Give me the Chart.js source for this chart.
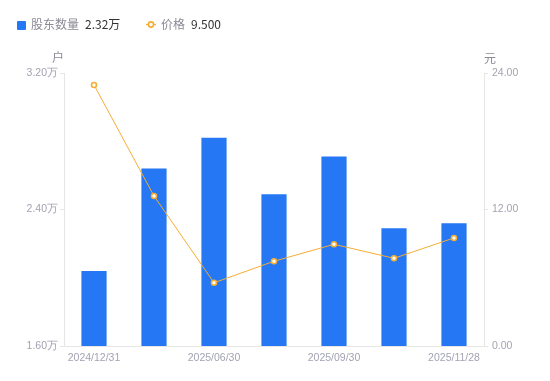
<!DOCTYPE html>
<html>
<head>
<meta charset="utf-8">
<script src="https://cdn.jsdelivr.net/npm/chart.js@4.4.1/dist/chart.umd.min.js"></script>
<style>
  body { margin: 0; background: #fff; font-family: "Noto Sans CJK SC", "Noto Sans", sans-serif; }
  #wrap { position: relative; width: 550px; height: 381px; }
  .legend { position: absolute; top: 15px; font-size: 12px; line-height: 18px; white-space: nowrap; }
  .legend .name { color: #8a8a96; }
  .legend .val { color: #333; margin-left: 6px; }
  .sq { position: absolute; left: 17px; top: 21px; width: 9px; height: 9px; background: #2577f4; border-radius: 1px; }
  .mk { position: absolute; left: 146px; top: 20px; width: 10px; height: 9px; }
</style>
</head>
<body>
<div id="wrap">
  <div class="sq"></div>
  <div class="legend" style="left:31px"><span class="name">股东数量</span><span class="val">2.32万</span></div>
  <svg class="mk" viewBox="0 0 10 9"><line x1="0" y1="4.5" x2="10" y2="4.5" stroke="#f6ad35" stroke-width="1.2"/><circle cx="5" cy="4.5" r="2.6" fill="#fff" stroke="#f6ad35" stroke-width="1.6"/></svg>
  <div class="legend" style="left:161px"><span class="name">价格</span><span class="val">9.500</span></div>
  <canvas id="chart" width="550" height="381"></canvas>
</div>
<script>
const dates = ['2024/12/31', '2025/03/31', '2025/06/30', '2025/08/29', '2025/09/30', '2025/10/31', '2025/11/28'];
const holders = [2.04, 2.64, 2.82, 2.49, 2.71, 2.29, 2.32]; // 万户
const prices = [22.95, 13.19, 5.56, 7.45, 8.94, 7.71, 9.50];
const leftTicks = [1.6, 2.4, 3.2];
const rightTicks = [0, 12, 24];

const tickColor = '#a3a3b3';
const lineColor = '#e6e6e6';
const tickFont = { size: 10.5, family: '"Liberation Sans", Arial, sans-serif' };

// unit labels above the two y axes
const unitLabels = {
  id: 'unitLabels',
  afterDraw(chart) {
    const ctx = chart.ctx;
    const area = chart.chartArea;
    ctx.save();
    ctx.font = '12px "Noto Sans CJK SC", sans-serif';
    ctx.fillStyle = '#8a8a96';
    ctx.textBaseline = 'middle';
    ctx.textAlign = 'center';
    ctx.fillText('户', area.left - 6, area.top - 16);
    ctx.fillText('元', area.right + 6, area.top - 15);
    ctx.restore();
  }
};

new Chart(document.getElementById('chart'), {
  data: {
    labels: dates,
    datasets: [
      {
        type: 'line',
        label: '价格',
        data: prices,
        yAxisID: 'y1',
        borderColor: '#f6ad35',
        borderWidth: 1,
        pointRadius: 2.5,
        pointBorderWidth: 1.6,
        pointBackgroundColor: '#fff',
        pointBorderColor: '#f6ad35',
        tension: 0,
        order: 0
      },
      {
        type: 'bar',
        label: '股东数量',
        data: holders,
        yAxisID: 'y',
        backgroundColor: '#2577f4',
        barPercentage: 0.42,
        categoryPercentage: 1,
        order: 1
      }
    ]
  },
  options: {
    responsive: false,
    animation: false,
    layout: { padding: { top: 73, left: 0, right: 0, bottom: 0 } },
    plugins: { legend: { display: false }, tooltip: { enabled: false } },
    scales: {
      x: {
        afterFit: function (axis) { axis.height = 35; },
        grid: { display: false, drawTicks: false },
        border: { color: lineColor },
        ticks: {
          color: tickColor,
          font: tickFont,
          maxRotation: 0,
          autoSkip: false,
          padding: 6,
          callback: function (v, i) { return i % 2 === 0 ? dates[i] : ''; }
        }
      },
      y: {
        position: 'left',
        min: 1.6,
        max: 3.2,
        afterFit: function (axis) { axis.width = 64; },
        afterBuildTicks: function (axis) { axis.ticks = leftTicks.map(v => ({ value: v })); },
        grid: { drawOnChartArea: false, tickLength: 4, color: lineColor },
        border: { color: lineColor },
        ticks: {
          color: tickColor,
          font: tickFont,
          padding: 2,
          callback: v => v.toFixed(2) + '万'
        }
      },
      y1: {
        position: 'right',
        min: 0,
        max: 24,
        afterFit: function (axis) { axis.width = 66; },
        afterBuildTicks: function (axis) { axis.ticks = rightTicks.map(v => ({ value: v })); },
        grid: { drawOnChartArea: false, tickLength: 4, color: lineColor },
        border: { color: lineColor },
        ticks: {
          color: tickColor,
          font: tickFont,
          padding: 4,
          callback: v => v.toFixed(2)
        }
      }
    }
  },
  plugins: [unitLabels]
});
</script>
</body>
</html>
